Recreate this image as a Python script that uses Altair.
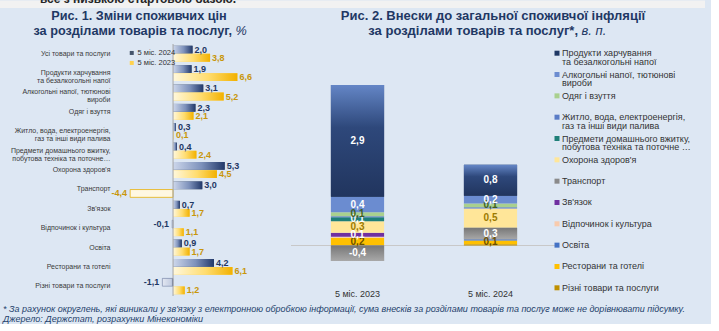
import altair as alt
import pandas as pd

FONT = "Liberation Sans"
TITLE_COLOR = "#1f3864"

# ---------------- Fig. 1 data ----------------
cat1 = [
    "Усі товари та послуги",
    "Продукти харчування|та безалкогольні напої",
    "Алкогольні напої, тютюнові|вироби",
    "Одяг і взуття",
    "Житло, вода, електроенергія,|газ та інші види палива",
    "Предмети домашнього вжитку,|побутова техніка та поточне…",
    "Охорона здоров'я",
    "Транспорт",
    "Зв'язок",
    "Відпочинок і культура",
    "Освіта",
    "Ресторани та готелі",
    "Різні товари та послуги",
]
series1 = ["5 міс. 2024", "5 міс. 2023"]
v2024 = [2.0, 1.9, 3.1, 2.3, 0.3, 0.4, 5.3, 3.0, 0.7, -0.1, 0.9, 4.2, -1.1]
v2023 = [3.8, 6.6, 5.2, 2.1, 0.1, 2.4, 4.5, -4.4, 1.7, 1.1, 1.7, 6.1, 1.2]

# ---------------- Fig. 2 data ----------------
periods = ["5 міс. 2023", "5 міс. 2024"]
groups2 = [
    "Продукти харчування|та безалкогольні напої",
    "Алкогольні напої, тютюнові|вироби",
    "Одяг і взуття",
    "Житло, вода, електроенергія,|газ та інші види палива",
    "Предмети домашнього вжитку,|побутова техніка та поточне …",
    "Охорона здоров'я",
    "Транспорт",
    "Зв'язок",
    "Відпочинок і культура",
    "Освіта",
    "Ресторани та готелі",
    "Різні товари та послуги",
]
c2023 = [2.9, 0.4, 0.1, 0.03, 0.1, 0.3, -0.4, 0.1, 0.03, 0.0, 0.2, 0.0]
c2024 = [0.8, 0.2, 0.1, 0.03, 0.0, 0.5, 0.3, 0.0, 0.0, 0.03, 0.1, 0.03]

# ---------------- texts ----------------
title1 = ["Рис. 1. Зміни споживчих цін", "за розділами товарів та послуг,", "%"]
title2 = ["Рис. 2. Внески до загальної споживчої інфляції", "за розділами товарів та послуг*,", "в. п."]
top_text = "все з низькою стартовою базою."
footnote = ["* За рахунок округлень, які виникали у зв'язку з електронною обробкою інформації, "
            "сума внесків за розділами товарів та послуг може не дорівнювати підсумку.",
            "Джерело: Держстат, розрахунки Мінекономіки"]

# ---------------- styles ----------------
colors2 = ["#1f3864", "#6b8cd0", "#a9d08e", "#5a7cc6", "#1e7f78", "#ffe699",
           "#8a8a8a", "#7030a0", "#f8cbad", "#4472c4", "#ffc000", "#bf9000"]
label_colors2 = ["#ffffff", "#ffffff", "#3f5f1f", "#ffffff", "#ffffff", "#9c7a00",
                 "#ffffff", "#ffffff", "#ffffff", "#ffffff", "#6b5000", "#6b5000"]


def fmt(v):
    return f"{v:.1f}".replace(".", ",")


rows1 = []
for c, a, b in zip(cat1, v2024, v2023):
    rows1.append({"cat": c, "series": series1[0], "v": a, "lbl": fmt(a)})
    rows1.append({"cat": c, "series": series1[1], "v": b, "lbl": fmt(b)})
df1 = pd.DataFrame(rows1)

rows2 = []
for p, vals in zip(periods, [c2023, c2024]):
    pos, neg = 0.0, 0.0
    for i in reversed(range(len(groups2))):
        v = vals[i]
        if v >= 0:
            y0, y1 = pos, pos + v
            pos += v
        else:
            y0, y1 = neg, neg + v
            neg += v
        rows2.append({"period": p, "grp": groups2[i], "v": v, "y0": y0, "y1": y1,
                      "mid": (y0 + y1) / 2, "lbl": fmt(v) if abs(v) >= 0.05 else "",
                      "lc": label_colors2[i]})
df2 = pd.DataFrame(rows2)
df_leg = pd.DataFrame({"idx": list(range(len(groups2))), "grp": groups2})


def hgrad(stops):
    return alt.Gradient(gradient="linear",
                        stops=[alt.GradientStop(color=c, offset=o) for c, o in stops],
                        x1=0, x2=1, y1=0, y2=0)


def vgrad(stops):
    return alt.Gradient(gradient="linear",
                        stops=[alt.GradientStop(color=c, offset=o) for c, o in stops],
                        x1=0, x2=0, y1=0, y2=1)


one = pd.DataFrame({"k": [0]})
PLOT_TOP = 43.5
T1_Y = 15 - PLOT_TOP
T2_Y = 30 - PLOT_TOP


def title_marks(lines, cx, split_x, size):
    style = dict(baseline="middle", fontSize=size, font=FONT, color=TITLE_COLOR)
    l1 = alt.Chart(one).mark_text(align="center", fontWeight="bold", **style).encode(
        x=alt.value(cx), y=alt.value(T1_Y), text=alt.value(lines[0]))
    l2 = alt.Chart(one).mark_text(align="right", fontWeight="bold", **style).encode(
        x=alt.value(split_x), y=alt.value(T2_Y), text=alt.value(lines[1]))
    l3 = alt.Chart(one).mark_text(align="left", fontWeight="normal", fontStyle="italic",
                                  **style).encode(
        x=alt.value(split_x + 3.5), y=alt.value(T2_Y), text=alt.value(lines[2]))
    return [l1, l2, l3]


# ---------------- Left chart ----------------
y1 = alt.Y("cat:N", sort=cat1,
           scale=alt.Scale(paddingInner=0.18, paddingOuter=0.09),
           axis=alt.Axis(title=None, labelExpr="split(datum.label, '|')", labelFontSize=7,
                         labelColor="#3a3a3a", labelFont=FONT, labelLineHeight=8,
                         labelPadding=2, ticks=False, domain=False, labelLimit=200))
yoff = alt.YOffset("series:N", sort=series1,
                   scale=alt.Scale(domain=series1, paddingInner=0.04, paddingOuter=0))
xscale1 = alt.Scale(domain=[-6.26, 8.51], nice=False, zero=False)
x1 = alt.X("v:Q", scale=xscale1, axis=None)

base1 = alt.Chart(df1)
leg_bars = base1.mark_bar().encode(
    y=y1, yOffset=yoff, x=x1, x2=alt.datum(0),
    color=alt.Color("series:N", sort=series1,
                    scale=alt.Scale(domain=series1, range=["#44546a", "#ffd24d"]),
                    legend=alt.Legend(title=None, orient="none", legendX=16, legendY=5.2,
                                      symbolType="square", symbolSize=16, labelFontSize=7.5,
                                      labelFont=FONT, labelColor="#333333", labelOffset=2,
                                      rowPadding=1, padding=0, symbolStrokeWidth=0)))

g24 = hgrad([("#cdd7eb", 0), ("#7d91bb", 0.55), ("#22396a", 1)])
g23 = hgrad([("#fff8dd", 0), ("#ffdc6e", 0.55), ("#f2b100", 1)])
g24n = hgrad([("#e3e8f2", 0), ("#c3cde1", 0.85), ("#2a4070", 1)])

bars24 = base1.transform_filter(f"datum.series == '{series1[0]}' && datum.v >= 0").mark_bar(
    color=g24).encode(y=y1, yOffset=yoff, x=x1, x2=alt.datum(0))
bars23 = base1.transform_filter(f"datum.series == '{series1[1]}' && datum.v >= 0").mark_bar(
    color=g23).encode(y=y1, yOffset=yoff, x=x1, x2=alt.datum(0))
bars24n = base1.transform_filter(f"datum.series == '{series1[0]}' && datum.v < 0").mark_bar(
    color=g24n, stroke="#8796b8", strokeWidth=0.6).encode(y=y1, yOffset=yoff, x=x1, x2=alt.datum(0))
bars23n = base1.transform_filter(f"datum.series == '{series1[1]}' && datum.v < 0").mark_bar(
    color="#fff8e2", stroke="#e3b21a", strokeWidth=0.8).encode(y=y1, yOffset=yoff, x=x1, x2=alt.datum(0))

zero1 = alt.Chart(one).mark_rule(color="#a6a6a6", strokeWidth=1).encode(
    x=alt.X("k:Q", scale=xscale1, axis=None))

lblcolor = alt.condition(f"datum.series == '{series1[0]}'", alt.value("#1f3864"), alt.value("#c8960a"))
lab_pos = base1.transform_filter("datum.v >= 0").mark_text(
    align="left", baseline="middle", dx=2, fontSize=9, fontWeight="bold", font=FONT).encode(
    y=y1, yOffset=yoff, x=x1, text="lbl:N", color=lblcolor)
lab_neg = base1.transform_filter("datum.v < 0").mark_text(
    align="right", baseline="middle", dx=-3, fontSize=9, fontWeight="bold", font=FONT).encode(
    y=y1, yOffset=yoff, x=x1, text="lbl:N", color=lblcolor)

# page strip above the panel with the cut-off text line of the page
strip_l = alt.Chart(one).mark_rect(color="#f2f2f2").encode(
    x=alt.value(-112), x2=alt.value(144), y=alt.value(-PLOT_TOP), y2=alt.value(-PLOT_TOP + 7.5))
strip_txt = alt.Chart(one).mark_text(
    align="left", baseline="middle", fontSize=12, fontWeight="bold", font=FONT,
    color="#262626").encode(x=alt.value(-72), y=alt.value(-PLOT_TOP - 2), text=alt.value(top_text))

left = alt.layer(strip_l, strip_txt, *title_marks(title1, 27, 120, 12.7),
                 leg_bars, bars24, bars23, bars24n, bars23n, zero1,
                 lab_pos, lab_neg).properties(width=144, height=252)

# ---------------- Right chart ----------------
x2 = alt.X("period:N", sort=periods,
           scale=alt.Scale(domain=periods, paddingInner=0.6, paddingOuter=0.3),
           axis=alt.Axis(title=None, labelAngle=0, ticks=False, domain=False, labelFontSize=9,
                         labelFont=FONT, labelColor="#333333", labelPadding=3))
yscale2 = alt.Scale(domain=[-1.062, 5.22], nice=False, zero=False)
ycol = alt.Y("y0:Q", scale=yscale2, axis=None)
cscale2 = alt.Scale(domain=groups2, range=colors2)
base2 = alt.Chart(df2)

stack_bars = base2.mark_bar().encode(
    x=x2, y=ycol, y2="y1:Q", color=alt.Color("grp:N", scale=cscale2, legend=None))

food_grad = vgrad([("#6486c6", 0), ("#2e487b", 0.38), ("#21355e", 1)])
trans_grad = vgrad([("#777777", 0), ("#a8a8a8", 1)])
food_bars = base2.transform_filter(f"datum.grp == '{groups2[0]}'").mark_bar(color=food_grad).encode(
    x=x2, y=ycol, y2="y1:Q")
trans_bars = base2.transform_filter(f"datum.grp == '{groups2[6]}' && datum.v != 0").mark_bar(
    color=trans_grad).encode(x=x2, y=ycol, y2="y1:Q")

zero2 = alt.Chart(one).mark_rule(color="#c8c8c8", strokeWidth=1).encode(
    y=alt.Y("k:Q", scale=yscale2, axis=None))

labels2 = base2.transform_filter("datum.lbl != ''").mark_text(
    baseline="middle", fontSize=10, fontWeight="bold", font=FONT).encode(
    x=x2, y=alt.Y("mid:Q", scale=yscale2, axis=None), text="lbl:N",
    color=alt.Color("lc:N", scale=None))

# legend of Fig. 2 (one row per group, laid out on a point scale)
leg_y = alt.Y("idx:O", scale=alt.Scale(type="point", domain=list(range(len(groups2))),
                                        range=[9.2, 243.8], padding=0), axis=None)
leg_sym = alt.Chart(df_leg).mark_square(size=25, opacity=1).encode(
    x=alt.value(266), y=leg_y, color=alt.Color("grp:N", scale=cscale2, legend=None))
leg_txt = alt.Chart(df_leg).mark_text(
    align="left", baseline="alphabetic", dy=3, fontSize=9, font=FONT, color="#333333",
    lineBreak="|", lineHeight=8.8).encode(x=alt.value(271), y=leg_y, text="grp:N")

strip_r = alt.Chart(one).mark_rect(color="#f2f2f2").encode(
    x=alt.value(-35), x2=alt.value(414), y=alt.value(-PLOT_TOP), y2=alt.value(-PLOT_TOP + 7.5))

right = alt.layer(strip_r, *title_marks(title2, 202, 287, 13), zero2, stack_bars, food_bars,
                  trans_bars, labels2, leg_sym, leg_txt).resolve_scale(
    color="independent", y="independent").properties(width=266, height=242.5)

chart = alt.hconcat(left, right, spacing=0).resolve_scale(color="independent").resolve_legend(
    color="independent").properties(
    title=alt.TitleParams(
        text=footnote, orient="bottom", anchor="start", fontSize=9, fontStyle="italic",
        fontWeight="normal", font=FONT, color="#243f6b", lineHeight=10, offset=6, dx=3),
    padding={"left": 0, "top": -8, "right": 6, "bottom": 0},
).configure(background="#dde7f3").configure_view(strokeWidth=0)

chart.save("out.html", embed_options={"renderer": "svg", "actions": False})
